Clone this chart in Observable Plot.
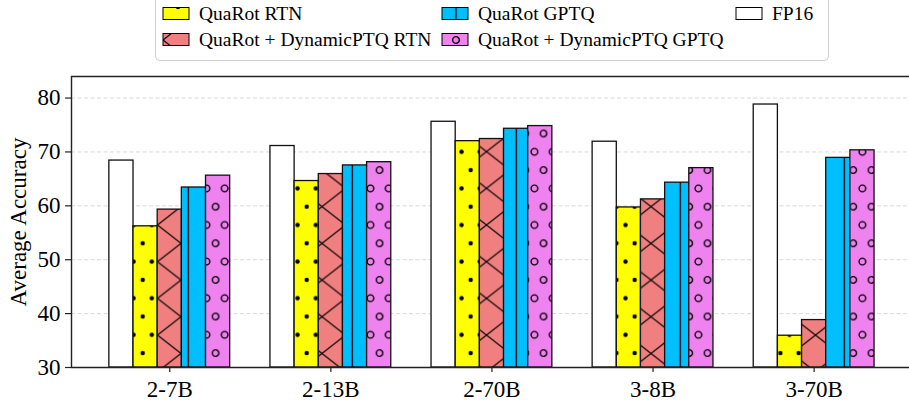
<!DOCTYPE html>
<html>
<head>
<meta charset="utf-8">
<script src="https://cdn.jsdelivr.net/npm/d3@7"></script>
<script src="https://cdn.jsdelivr.net/npm/@observablehq/plot@0.6"></script>
<style>
  html, body { margin: 0; padding: 0; background: #fff; }
  body { font-family: "Liberation Serif", "Times New Roman", serif; width: 909px; height: 407px; overflow: hidden; }
  #legend, #chart svg { display: block; }
  #chart svg text { font-family: "Liberation Serif", "Times New Roman", serif !important; font-size: 23px !important; fill: #000; }
</style>
</head>
<body>
<svg id="legend" width="909" height="61"></svg>
<div id="chart"></div>
<script>
// ---- data ----
const models = ["2-7B", "2-13B", "2-70B", "3-8B", "3-70B"];
const methods = ["FP16", "QuaRot RTN", "QuaRot + DynamicPTQ RTN", "QuaRot GPTQ", "QuaRot + DynamicPTQ GPTQ"];
const fp16            = [68.4, 71.1, 75.6, 71.9, 78.8];
const quarotRTN       = [56.2, 64.6, 72.0, 59.7, 35.9];
const dynamicPTQRTN   = [59.3, 65.9, 72.4, 61.2, 38.8];
const quarotGPTQ      = [63.4, 67.5, 74.3, 64.3, 68.9];
const dynamicPTQGPTQ  = [65.6, 68.1, 74.8, 67.0, 70.3];
const yTicks = [30, 40, 50, 60, 70, 80];
const yLabel = "Average Accuracy";
const legendOrder = ["QuaRot RTN", "QuaRot + DynamicPTQ RTN", "QuaRot GPTQ", "QuaRot + DynamicPTQ GPTQ", "FP16"];

const seriesValues = [fp16, quarotRTN, dynamicPTQRTN, quarotGPTQ, dynamicPTQGPTQ];
const data = models.flatMap((m, i) => methods.map((s, j) => ({model: m, i, method: s, j, value: seriesValues[j][i]})));

// ---- styles ----
const baseColor = {"FP16": "#ffffff", "QuaRot RTN": "#ffff00", "QuaRot + DynamicPTQ RTN": "#f08080",
                   "QuaRot GPTQ": "#00bfff", "QuaRot + DynamicPTQ GPTQ": "#ee82ee"};
const hatchKind = {"FP16": "none", "QuaRot RTN": "dots", "QuaRot + DynamicPTQ RTN": "cross",
                   "QuaRot GPTQ": "vline", "QuaRot + DynamicPTQ GPTQ": "rings"};
const barWidth = 0.15;

function addPatterns(svgSel, prefix, origins) {
  const defs = svgSel.insert("defs", ":first-child");
  methods.forEach((m, j) => {
    const kind = hatchKind[m];
    const o = origins[kind] || {x: 0, y: 0};
    let w = 10, h = 10;
    if (kind === "dots" || kind === "rings") { w = 18.22; h = 36.6; }
    if (kind === "cross") { w = 47; h = 36.7; }
    if (kind === "vline") { w = 41; h = 20; }
    const p = defs.append("pattern").attr("id", `${prefix}-${j}`).attr("patternUnits", "userSpaceOnUse")
      .attr("x", o.x).attr("y", o.y).attr("width", w).attr("height", h);
    p.append("rect").attr("width", w).attr("height", h).attr("fill", baseColor[m]);
    const pts = [[0, 0], [w, 0], [0, h], [w, h], [w / 2, h / 2]];
    if (kind === "dots") {
      pts.forEach(([cx, cy]) => p.append("circle").attr("cx", cx).attr("cy", cy).attr("r", 2.2).attr("fill", "#000"));
    } else if (kind === "rings") {
      pts.forEach(([cx, cy]) => p.append("circle").attr("cx", cx).attr("cy", cy).attr("r", 3.3)
        .attr("fill", "none").attr("stroke", "#000").attr("stroke-width", 1.4));
    } else if (kind === "cross") {
      let d = "";
      for (const dx of [-w, 0, w]) {
        d += `M${dx - w},${-h}L${dx + 2 * w},${2 * h}`;
        d += `M${dx - w},${2 * h}L${dx + 2 * w},${-h}`;
      }
      p.append("path").attr("d", d).attr("stroke", "#000").attr("stroke-width", 1.2).attr("fill", "none");
    } else if (kind === "vline") {
      p.append("line").attr("x1", w / 2).attr("x2", w / 2).attr("y1", -1).attr("y2", h + 1)
        .attr("stroke", "#000").attr("stroke-width", 1.3);
    }
  });
}

// ---- chart ----
const plot = Plot.plot({
  width: 909, height: 346,
  marginLeft: 71, marginRight: 0, marginTop: 15, marginBottom: 40,
  style: {background: "transparent", overflow: "visible"},
  x: {domain: [-0.61, 4.592]},
  y: {domain: [30, 84]},
  color: {type: "identity"},
  marks: [
    Plot.gridY({ticks: yTicks, stroke: "#d4d4d4", strokeOpacity: 1, strokeDasharray: "4,2.5", strokeWidth: 0.9}),
    Plot.rectY(data, {
      x1: d => d.i + (d.j - 2.5) * barWidth,
      x2: d => d.i + (d.j - 1.5) * barWidth,
      y1: 30, y2: "value",
      fill: d => `url(#bar-${d.j})`,
      stroke: "#111", strokeWidth: 1.3
    }),
    Plot.ruleY([30, 84], {stroke: "#222", strokeWidth: 1.4}),
    Plot.ruleX([-0.61], {stroke: "#222", strokeWidth: 1.4}),
    Plot.axisY({ticks: yTicks, tickSize: 6, tickPadding: 5, stroke: "#222", strokeWidth: 1.2, label: null}),
    Plot.axisX({ticks: d3.range(models.length), tickSize: 5, tickPadding: 8, stroke: "#222", strokeWidth: 1.2,
      tickFormat: i => models[i], label: null}),
    Plot.text([yLabel], {frameAnchor: "left", rotate: -90, dx: -53, text: d => d, textAnchor: "middle", fill: "#000"})
  ]
});
document.getElementById("chart").appendChild(plot);
// pattern origins in the chart svg coordinates (svg top sits 61px below the page top)
addPatterns(d3.select(plot), "bar", {
  dots: {x: 142.7, y: 182.3},
  rings: {x: 142.7, y: 182.3},
  cross: {x: 157.5, y: 200.7},
  vline: {x: 167.8, y: 0}
});

// ---- legend ----
const lg = d3.select("#legend");
lg.append("rect").attr("x", 155.5).attr("y", -10).attr("width", 673).attr("height", 70.5).attr("rx", 4)
  .attr("fill", "#fff").attr("stroke", "#cfcfcf").attr("stroke-width", 1);
addPatterns(lg, "leg", {
  dots: {x: 178, y: 7},
  rings: {x: 456, y: 40},
  cross: {x: 163, y: 40},
  vline: {x: 435.5, y: 0}
});
const colX = [163, 442, 736];
const rowY = [7.5, 33.5];
legendOrder.forEach((name, k) => {
  const c = Math.floor(k / 2), r = k % 2;
  const j = methods.indexOf(name);
  lg.append("rect").attr("x", colX[c]).attr("y", rowY[r]).attr("width", 26).attr("height", 12)
    .attr("fill", `url(#leg-${j})`).attr("stroke", "#000").attr("stroke-width", 1);
  lg.append("text").attr("x", colX[c] + 36).attr("y", rowY[r] + 12.7)
    .attr("font-family", "'Liberation Serif', 'Times New Roman', serif").attr("font-size", 19.5)
    .attr("fill", "#000").text(name);
});
</script>
</body>
</html>
